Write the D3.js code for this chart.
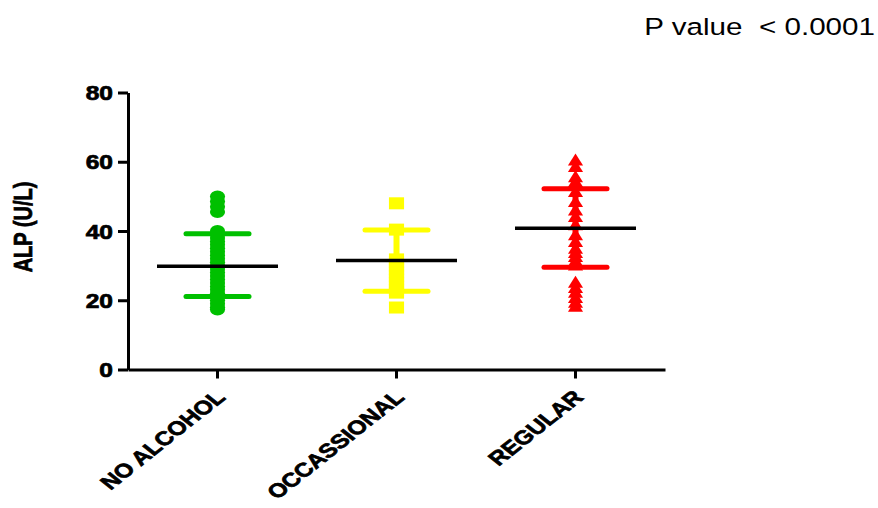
<!DOCTYPE html>
<html>
<head>
<meta charset="utf-8">
<script src="https://cdn.jsdelivr.net/npm/d3@7"></script>
<style>
  html, body { margin: 0; padding: 0; background: #fff; }
  svg { display: block; }
  text { font-family: "Liberation Sans", Arial, sans-serif; }
</style>
</head>
<body>
<svg id="chart" width="878" height="508"></svg>
<script>
// ---- data ----
const categories = ["NO ALCOHOL", "OCCASSIONAL", "REGULAR"];
const colors = ["#00c000", "#ffff00", "#ff0000"];
const shapes = ["circle", "square", "triangle"];
const means = [29.8, 31.5, 40.8];
const sdUpper = [39.2, 40.3, 52.2];
const sdLower = [21.1, 22.6, 29.5];
const noAlcohol = [50, 48.5, 47, 45.5, 40, 39, 38, 37, 36, 35, 34, 33, 32, 31, 30, 29, 28, 27, 26, 25, 24, 23, 22, 21, 20, 19, 18, 17.3];
const occasional = [48, 40.4, 31.8, 31, 30, 29, 28, 27, 26, 25, 24, 23, 22.2, 17.9];
const regular = [60.5, 58.6, 55.7, 54.3, 51.4, 48.5, 46.1, 44.2, 41.8, 38.9, 37, 35, 33.8, 32.6, 31.4, 30.2, 25.2, 23.7, 22.3, 20.8, 19.4, 18.3];
const seriesValues = [noAlcohol, occasional, regular];
const yTicks = [0, 20, 40, 60, 80];
const yLabel = "ALP (U/L)";
const pText = "P value  < 0.0001";

// ---- layout ----
const SX = 1.26; // horizontal stretch of the original picture
const svg = d3.select("#chart");
const x = d3.scaleBand().domain(categories).range([128, 665]).padding(0);
const y = d3.scaleLinear().domain([0, 80]).range([369.5, 92.5]);
const cx = c => x(c) + x.bandwidth() / 2;

// ---- marks ----
const g = svg.append("g");
categories.forEach((c, i) => {
  const col = colors[i];
  const xc = cx(c);
  g.append("line")
    .attr("x1", xc).attr("x2", xc)
    .attr("y1", y(sdUpper[i])).attr("y2", y(sdLower[i]))
    .attr("stroke", col).attr("stroke-width", 6);
  const pts = g.append("g");
  seriesValues[i].forEach(v => {
    const t = `translate(${xc},${y(v)}) scale(${SX},1)`;
    if (shapes[i] === "circle") {
      pts.append("circle").attr("r", 6).attr("transform", t).attr("fill", col);
    } else if (shapes[i] === "square") {
      pts.append("rect").attr("x", -6).attr("y", -6).attr("width", 12).attr("height", 12)
        .attr("transform", t).attr("fill", col);
    } else {
      pts.append("path").attr("d", "M0,-6.5L6,5.5L-6,5.5Z").attr("transform", t).attr("fill", col);
    }
  });
  [sdUpper[i], sdLower[i]].forEach(v => {
    g.append("line")
      .attr("x1", xc - 31.5).attr("x2", xc + 31.5)
      .attr("y1", y(v)).attr("y2", y(v))
      .attr("stroke", col).attr("stroke-width", 5).attr("stroke-linecap", "round");
  });
  g.append("line")
    .attr("x1", xc - 60.5).attr("x2", xc + 60.5)
    .attr("y1", y(means[i])).attr("y2", y(means[i]))
    .attr("stroke", "#000").attr("stroke-width", 3.5);
});

// ---- axes ----
const yAxis = svg.append("g").attr("transform", "translate(128,0)")
  .call(d3.axisLeft(y).tickValues(yTicks).tickSize(10).tickSizeOuter(0).tickFormat(d3.format("d")));
yAxis.select(".domain").attr("stroke", "#000").attr("stroke-width", 3);
yAxis.selectAll(".tick line").attr("stroke", "#000").attr("stroke-width", 3);
yAxis.selectAll(".tick text")
  .attr("x", null)
  .attr("transform", `translate(-15,0) scale(${SX},1)`)
  .attr("dy", "0.36em")
  .attr("text-anchor", "end")
  .attr("font-family", "'Liberation Sans', Arial, sans-serif")
  .attr("font-weight", "bold").attr("font-size", 19.5).attr("fill", "#000")
  .attr("stroke", "#000").attr("stroke-width", 0.7);

const xAxis = svg.append("g").attr("transform", `translate(0,${y(0)})`)
  .call(d3.axisBottom(x).tickSize(9).tickSizeOuter(0));
xAxis.select(".domain").attr("stroke", "#000").attr("stroke-width", 3);
xAxis.selectAll(".tick line").attr("stroke", "#000").attr("stroke-width", 3);
xAxis.selectAll(".tick text")
  .attr("y", null).attr("dy", null)
  .attr("transform", `translate(9,29) scale(${SX},1) rotate(-45)`)
  .attr("text-anchor", "end")
  .attr("font-family", "'Liberation Sans', Arial, sans-serif")
  .attr("font-weight", "bold").attr("font-size", 19.5).attr("fill", "#000")
  .attr("stroke", "#000").attr("stroke-width", 0.7);

// ---- titles ----
svg.append("text")
  .attr("transform", `translate(32,227) scale(${SX},1) rotate(-90)`)
  .attr("text-anchor", "middle")
  .attr("font-weight", "bold").attr("font-size", 20)
  .attr("stroke", "#000").attr("stroke-width", 0.6)
  .text(yLabel);

svg.append("text")
  .attr("transform", `translate(875,35) scale(${SX},1)`)
  .attr("text-anchor", "end")
  .style("white-space", "pre")
  .attr("font-size", 23.5)
  .text(pText);
</script>
</body>
</html>
